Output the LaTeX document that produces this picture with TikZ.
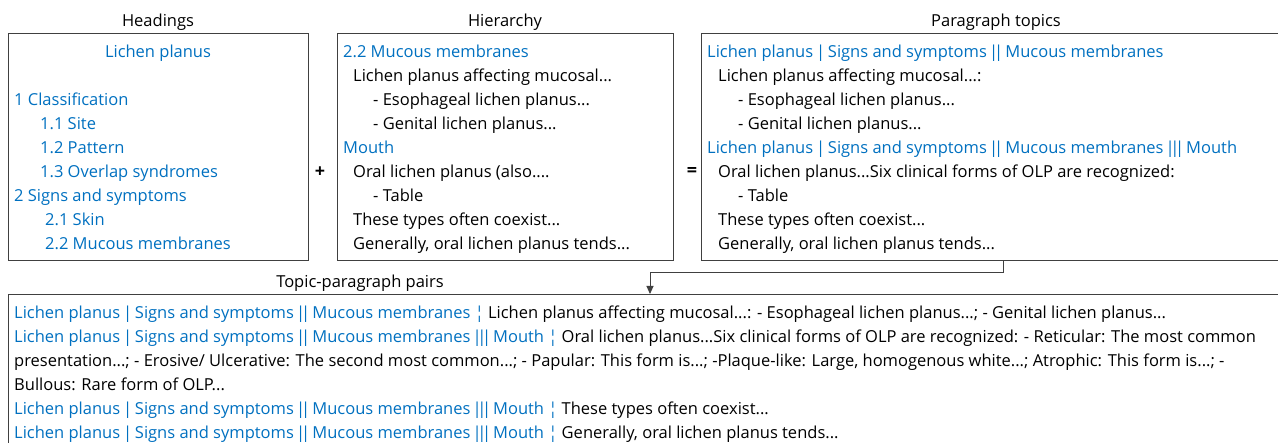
\documentclass[tikz,border=0pt]{standalone}
\usepackage{fontspec}
\setmainfont{Open Sans}
\usetikzlibrary{arrows.meta}
\definecolor{hblue}{HTML}{0070C0}
\definecolor{frame}{HTML}{404040}
\newcommand{\barbox}[1]{\makebox[#1]{\makebox[0pt]{|}}}
\newcommand{\vbone}{\barbox{6.2pt}}
\newcommand{\vbtwo}{\barbox{5pt}\barbox{5pt}}
\newcommand{\vbthree}{\barbox{4.7pt}\barbox{4.7pt}\barbox{4.7pt}}
\newcommand{\topicA}{Lichen planus \vbone{} Signs and symptoms \vbtwo{} Mucous membranes}
\newcommand{\topicB}{\topicA{} \vbthree{} Mouth}
\begin{document}
\begin{tikzpicture}[x=1pt,y=-1pt,
  box/.style={draw=frame, line width=0.9pt, rectangle, anchor=north west, inner sep=0pt},
  txt/.style={anchor=base west, inner sep=0pt, font=\fontsize{16.5}{24}\selectfont},
  ttl/.style={anchor=base, inner sep=0pt, font=\fontsize{16.5}{24}\selectfont},
  blu/.style={txt, text=hblue},
  conn/.style={draw=frame, line width=0.9pt, -{Triangle[length=8pt,width=7pt]}},
  opsign/.style={inner sep=0pt, font=\fontsize{18}{24}\selectfont\bfseries}]
\useasboundingbox (0,0) rectangle (1278,443);
% boxes
\node[box, minimum width=300pt, minimum height=227.5pt] (b1) at (8,33) {};
\node[box, minimum width=336pt, minimum height=227.5pt] (b2) at (337,33) {};
\node[box, minimum width=589pt, minimum height=227.5pt] (b3) at (701,33) {};
\node[box, minimum width=1282pt, minimum height=170pt] (b4) at (8,294) {};
% titles
\node[ttl] (t1) at (158,26.5) {Headings};
\node[ttl] (t2) at (505,26.5) {Hierarchy};
\node[ttl] (t3) at (996,26.5) {Paragraph topics};
\node[ttl] (t4) at (360,288) {Topic-paragraph pairs};
% operators
\node[opsign] (plus) at (320,172) {+};
\node[opsign] (eq) at (692,172) {=};
% box 1
\node[blu, anchor=base] (a0) at (158,58) {Lichen planus};
\node[blu] (a1) at (14,106) {1 Classification};
\node[blu] (a2) at (40,130) {1.1 Site};
\node[blu] (a3) at (40,154) {1.2 Pattern};
\node[blu] (a4) at (40,178) {1.3 Overlap syndromes};
\node[blu] (a5) at (14,202) {2 Signs and symptoms};
\node[blu] (a6) at (45,226) {2.1 Skin};
\node[blu] (a7) at (45,250) {2.2 Mucous membranes};
% box 2
\node[blu] (c0) at (343,58) {2.2 Mucous membranes};
\node[txt] (c1) at (353,82) {Lichen planus affecting mucosal...};
\node[txt] (c2) at (373,106) {- Esophageal lichen planus...};
\node[txt] (c3) at (373,130) {- Genital lichen planus...};
\node[blu] (c4) at (343,154) {Mouth};
\node[txt] (c5) at (353,178) {Oral lichen planus (also....};
\node[txt] (c6) at (373,202) {- Table};
\node[txt] (c7) at (353,226) {These types often coexist...};
\node[txt] (c8) at (353,250) {Generally, oral lichen planus tends...};
% box 3
\node[blu] (d0) at (707,58) {\topicA};
\node[txt] (d1) at (718,82) {Lichen planus affecting mucosal...:};
\node[txt] (d2) at (738,106) {- Esophageal lichen planus...};
\node[txt] (d3) at (738,130) {- Genital lichen planus...};
\node[blu] (d4) at (707,154) {\topicB};
\node[txt] (d5) at (718,178) {Oral lichen planus...Six clinical forms of OLP are recognized:};
\node[txt] (d6) at (738,202) {- Table};
\node[txt] (d7) at (718,226) {These types often coexist...};
\node[txt] (d8) at (718,250) {Generally, oral lichen planus tends...};
% box 4
\node[txt] (e1) at (14,319) {\textcolor{hblue}{\topicA{} ¦} Lichen planus affecting mucosal...: - Esophageal lichen planus...; - Genital lichen planus...};
\node[txt] (e2) at (14,343) {\textcolor{hblue}{\topicB{} ¦} Oral lichen planus...Six clinical forms of OLP are recognized: - Reticular: The most common};
\node[txt] (e3) at (14,367) {presentation...; - Erosive/ Ulcerative: The second most common...; - Papular: This form is...; -Plaque-like: Large, homogenous white...; Atrophic: This form is...; -};
\node[txt] (e4) at (14,391) {Bullous: Rare form of OLP...};
\node[txt] (e5) at (14,415) {\textcolor{hblue}{\topicB{} ¦} These types often coexist...};
\node[txt] (e6) at (14,439) {\textcolor{hblue}{\topicB{} ¦} Generally, oral lichen planus tends...};
% connector
\coordinate (bendA) at (1003,272.5);
\coordinate (bendB) at (650,272.5);
\draw[conn] (b3.south -| bendA) -- (bendA) -- (bendB) -- (b4.north -| bendB);
\end{tikzpicture}
\end{document}
